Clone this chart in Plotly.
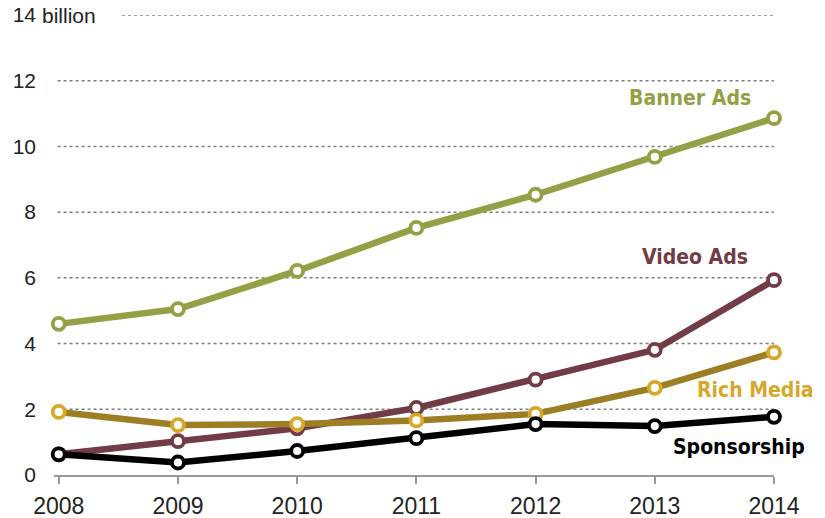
import plotly.graph_objects as go

years = [2008, 2009, 2010, 2011, 2012, 2013, 2014]
banner_ads = [4.6, 5.05, 6.21, 7.52, 8.53, 9.68, 10.86]
video_ads = [0.63, 1.03, 1.42, 2.04, 2.9, 3.81, 5.93]
rich_media = [1.92, 1.52, 1.55, 1.66, 1.86, 2.65, 3.73]
sponsorship = [0.63, 0.38, 0.73, 1.12, 1.55, 1.49, 1.77]

y_ticks = [0, 2, 4, 6, 8, 10, 12, 14]
y_ticktext = ["0", "2", "4", "6", "8", "10", "12", "14"]
x_ticktext = ["2008", "2009", "2010", "2011", "2012", "2013", "2014"]

series = [
    ("Video Ads", video_ads, "#723C46", "#723C46"),
    ("Rich Media", rich_media, "#9C7E24", "#D5A82B"),
    ("Sponsorship", sponsorship, "#000000", "#000000"),
    ("Banner Ads", banner_ads, "#959F45", "#959F45"),
]

fig = go.Figure()
for name, vals, lc, mc in series:
    fig.add_trace(go.Scatter(
        x=years, y=vals, mode="lines+markers", name=name,
        line=dict(color=lc, width=6.5),
        marker=dict(size=12, color="white", line=dict(color=mc, width=3.8)),
        cliponaxis=False, showlegend=False, hoverinfo="x+y+name",
    ))

# dotted gridlines
for t in y_ticks[1:]:
    x0 = 2008.53 if t == 14 else 2007.99
    fig.add_shape(type="line", xref="x", yref="y", x0=x0, x1=2014, y0=t, y1=t,
                  line=dict(color="#7f7f7f", width=1.5, dash="dot"), layer="below")

labels = [
    ("Banner Ads", 0.883, 11.47, "#959F45", "center"),
    ("Video Ads", 0.890, 6.63, "#723C46", "center"),
    ("Rich Media", 1.058, 2.59, "#D5A82B", "right"),
    ("Sponsorship", 1.046, 0.85, "#000000", "right"),
]
cond = "Liberation Sans Narrow, DejaVu Sans Condensed, Arial Narrow, sans-serif"
for text, x, y, c, align in labels:
    fig.add_annotation(x=x, y=y, xref="paper", yref="y", text="<b>" + text + "</b>",
                       showarrow=False, xanchor=align, yanchor="middle",
                       font=dict(family=cond, size=21, color=c))

tickfont = "Liberation Sans, Arial, sans-serif"
fig.add_annotation(x=-0.0167, y=14, xref="paper", yref="y", text="billion",
                   showarrow=False, xanchor="left", yanchor="middle", xshift=-2,
                   font=dict(family=tickfont, size=21, color="#222"))

fig.update_layout(
    width=825, height=518,
    margin=dict(l=54, r=51, t=15, b=43),
    paper_bgcolor="white", plot_bgcolor="white",
    xaxis=dict(range=[2007.96, 2014], tickvals=years, ticktext=x_ticktext, automargin=False,
               showgrid=False, zeroline=False, showline=True, linecolor="#9a9a9a", linewidth=2,
               ticks="outside", ticklen=7, tickwidth=1.5, tickcolor="#9a9a9a",
               tickfont=dict(family=tickfont, size=23, color="#222"),
               ticklabelstandoff=2),
    yaxis=dict(range=[0, 14], tickvals=y_ticks, ticktext=y_ticktext, automargin=False,
               showgrid=False, zeroline=False, showline=False, ticks="",
               tickfont=dict(family=tickfont, size=21, color="#222"),
               ticklabelstandoff=17),
)

fig.write_html("out.html", config={"displayModeBar": False},
               post_script="document.body.style.margin='0';document.body.style.overflow='hidden';")
